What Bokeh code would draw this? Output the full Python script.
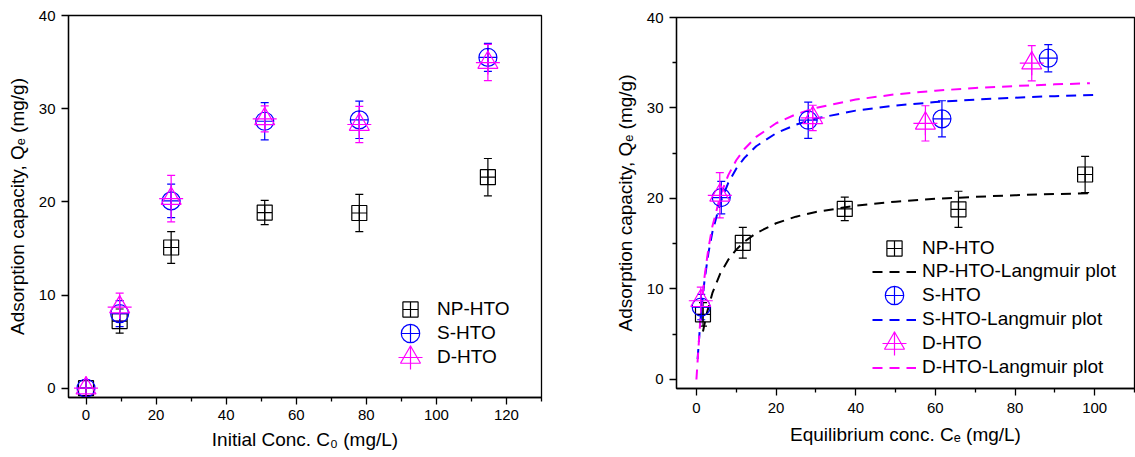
from bokeh.plotting import figure
from bokeh.models import (Range1d, FixedTicker, Whisker, TeeHead, ColumnDataSource,
                          Legend, LegendItem)
from bokeh.layouts import row, column
from bokeh.embed import file_html
from bokeh.resources import INLINE

FONT = "Liberation Sans"
BLACK, BLUE, MAGENTA = "#000000", "#0000FF", "#FF00FF"

# ---------------- data ----------------
c0 = [0, 9.6, 24.3, 51, 78, 114.7]                      # initial conc. C0 (mg/L)
np_qe = [0, 7.2, 15.1, 18.85, 18.8, 22.65]
np_err = [0, 1.3, 1.7, 1.3, 2.0, 2.0]
s_qe = [0, 8.0, 20.1, 28.65, 28.8, 35.5]
s_err = [0, 1.4, 1.8, 2.0, 2.0, 1.5]
d_qe = [0, 8.7, 20.35, 28.9, 28.3, 34.95]
d_err = [0, 1.5, 2.5, 1.4, 1.95, 1.95]

# equilibrium conc. Ce (mg/L) for the non-zero points
np_ce = [1.65, 11.65, 37.25, 65.8, 97.6]
s_ce = [1.2, 6.24, 28.07, 61.65, 88.35]
d_ce = [1.1, 5.87, 29.2, 57.5, 84.2]

# Langmuir plot curves
np_fit_ce = [1.65, 2.5, 4, 6, 8, 10, 12, 15, 20, 25, 30, 40, 50, 60, 70, 80, 90, 98.8]
np_fit_qe = [5.3, 7.13, 9.53, 11.71, 13.23, 14.35, 15.2, 16.17, 17.26, 17.99, 18.51,
             19.21, 19.65, 19.96, 20.18, 20.36, 20.49, 20.59]
s_fit_ce = [0.3, 1, 2, 3, 4, 6, 8, 10, 12, 15, 20, 25, 30, 40, 50, 60, 70, 80, 90, 100]
s_fit_qe = [2.26, 6.48, 10.82, 13.93, 16.26, 19.54, 21.73, 23.29, 24.46, 25.77, 27.21,
            28.16, 28.83, 29.71, 30.27, 30.65, 30.93, 31.14, 31.31, 31.45]
d_fit_ce = [0, 1, 2, 3, 4, 6, 8, 10, 12, 15, 20, 25, 30, 40, 50, 60, 70, 80, 90, 98.8]
d_fit_qe = [0, 6.72, 11.22, 14.45, 16.89, 20.3, 22.58, 24.22, 25.44, 26.8, 28.31,
            29.31, 30.01, 30.93, 31.51, 31.91, 32.21, 32.43, 32.61, 32.73]

left_xticks = [0, 20, 40, 60, 80, 100, 120]
left_xminor = [10, 30, 50, 70, 90, 110, 130]
right_xticks = [0, 20, 40, 60, 80, 100]
right_xminor = [10, 30, 50, 70, 90, 110]
yticks = [0, 10, 20, 30, 40]
right_yminor = [5, 15, 25, 35]


def style(p, xticks, xminor, yminor, label_standoff, title_standoff):
    p.xgrid.visible = False
    p.ygrid.visible = False
    p.outline_line_color = BLACK
    p.outline_line_width = 1.3
    p.outline_line_alpha = 1
    p.background_fill_color = "white"
    p.border_fill_color = "white"
    for ax in (p.xaxis[0], p.yaxis[0]):
        ax.axis_line_width = 1.3
        ax.axis_line_color = BLACK
        ax.major_tick_out = 7
        ax.major_tick_in = 0
        ax.minor_tick_out = 4
        ax.minor_tick_in = 0
        ax.major_tick_line_width = 1.3
        ax.minor_tick_line_width = 1.3
        ax.major_tick_line_color = BLACK
        ax.minor_tick_line_color = BLACK
        ax.major_label_text_font = FONT
        ax.major_label_text_font_size = "15px"
        ax.major_label_text_color = BLACK
        ax.axis_label_text_font = FONT
        ax.axis_label_text_font_size = "19px"
        ax.axis_label_text_font_style = "normal"
        ax.axis_label_text_color = BLACK
    p.xaxis[0].ticker = FixedTicker(ticks=xticks, minor_ticks=xminor)
    p.yaxis[0].ticker = FixedTicker(ticks=yticks, minor_ticks=yminor)
    p.xaxis[0].major_label_standoff = label_standoff
    p.yaxis[0].major_label_standoff = 6
    p.xaxis[0].axis_label_standoff = title_standoff
    p.yaxis[0].axis_label_standoff = 8


def whiskers(p, xs, ys, errs, color):
    base, up, lo = [], [], []
    for x, y, e in zip(xs, ys, errs):
        if e > 0:
            base.append(x)
            up.append(y + e)
            lo.append(y - e)
    src = ColumnDataSource(dict(base=base, upper=up, lower=lo))
    w = Whisker(source=src, base="base", upper="upper", lower="lower",
                dimension="height", line_color=color, line_width=1.2,
                upper_head=TeeHead(size=8, line_color=color, line_width=1.2),
                lower_head=TeeHead(size=8, line_color=color, line_width=1.2))
    p.add_layout(w)


def markers(p, xs, ys):
    out = {}
    out["np"] = p.scatter(xs[0], ys[0], marker="square_cross", size=15, line_color=BLACK,
                          fill_color=None, line_width=1.2)
    out["s"] = p.scatter(xs[1], ys[1], marker="circle_cross", size=18, line_color=BLUE,
                         fill_color=None, line_width=1.2)
    out["d"] = p.scatter(xs[2], ys[2], marker="triangle", size=20, line_color=MAGENTA,
                         fill_color=None, line_width=1.2)
    out["dc"] = p.scatter(xs[2], ys[2], marker="cross", size=24, line_color=MAGENTA,
                          line_width=1.2)
    return out


def add_legend(p, label, renderers, loc, gw, gh, standoff):
    lg = Legend(items=[LegendItem(label=label, renderers=renderers)], location=loc,
                glyph_width=gw, glyph_height=gh, label_standoff=standoff,
                label_text_font=FONT, label_text_font_size="19px",
                label_text_color=BLACK, label_height=21,
                padding=0, spacing=0, margin=0,
                border_line_color=None, background_fill_alpha=0)
    p.add_layout(lg)


# ---------------- left figure ----------------
p1 = figure(width=568, height=457, x_range=Range1d(-5, 130), y_range=Range1d(-1, 40),
            output_backend="svg", toolbar_location=None,
            min_border_left=68, min_border_right=27, min_border_top=15, min_border_bottom=60)
style(p1, left_xticks, left_xminor, [], 5, 6)
p1.xaxis[0].axis_label = "Initial Conc. C\u2080 (mg/L)"
p1.yaxis[0].axis_label = "Adsorption capacity, Q\u2091 (mg/g)"

whiskers(p1, c0, np_qe, np_err, BLACK)
whiskers(p1, c0, s_qe, s_err, BLUE)
whiskers(p1, c0, d_qe, d_err, MAGENTA)
m1 = markers(p1, [c0, c0, c0], [np_qe, s_qe, d_qe])

# legend entries: marker centre x=342, text x=369 from frame left
add_legend(p1, "NP-HTO", [m1["np"]], (323, 69), 38, 38, 8)
add_legend(p1, "S-HTO", [m1["s"]], (319, 41), 46, 46, 4)
add_legend(p1, "D-HTO", [m1["d"]], (317, 15), 50, 50, 2)
add_legend(p1, " ", [m1["dc"]], (312, 10), 60, 60, 0)

# ---------------- right figure ----------------
p2 = figure(width=567, height=457, x_range=Range1d(-5, 110), y_range=Range1d(-1, 40),
            output_backend="svg", toolbar_location=None,
            min_border_left=108, min_border_right=1, min_border_top=17, min_border_bottom=69)
style(p2, right_xticks, right_xminor, right_yminor, 7, 8)
p2.xaxis[0].axis_label = "Equilibrium conc. C\u2091 (mg/L)"
p2.yaxis[0].axis_label = "Adsorption capacity, Q\u2091 (mg/g)"

l_np = p2.line(np_fit_ce, np_fit_qe, line_color=BLACK, line_width=2, line_dash="10 7")
l_s = p2.line(s_fit_ce, s_fit_qe, line_color=BLUE, line_width=2, line_dash="10 7")
l_d = p2.line(d_fit_ce, d_fit_qe, line_color=MAGENTA, line_width=2, line_dash="10 7")

whiskers(p2, np_ce, np_qe[1:], np_err[1:], BLACK)
whiskers(p2, s_ce, s_qe[1:], s_err[1:], BLUE)
whiskers(p2, d_ce, d_qe[1:], d_err[1:], MAGENTA)
m2 = markers(p2, [np_ce, s_ce, d_ce], [np_qe[1:], s_qe[1:], d_qe[1:]])

# legend entries: marker centre x=218, text x=246 from frame left
add_legend(p2, "NP-HTO", [m2["np"]], (199, 121), 38, 38, 9)
add_legend(p2, "NP-HTO-Langmuir plot", [l_np], (196, 106), 44, 21, 6)
add_legend(p2, "S-HTO", [m2["s"]], (195, 70), 46, 46, 5)
add_legend(p2, "S-HTO-Langmuir plot", [l_s], (196, 58), 44, 21, 6)
add_legend(p2, "D-HTO", [m2["d"]], (193, 20), 50, 50, 3)
add_legend(p2, " ", [m2["dc"]], (188, 15), 60, 60, 0)
add_legend(p2, "D-HTO-Langmuir plot", [l_d], (196, 10), 44, 21, 6)

layout = row(column(p1), column(p2))
open("out.html", "w").write(file_html(layout, INLINE))
